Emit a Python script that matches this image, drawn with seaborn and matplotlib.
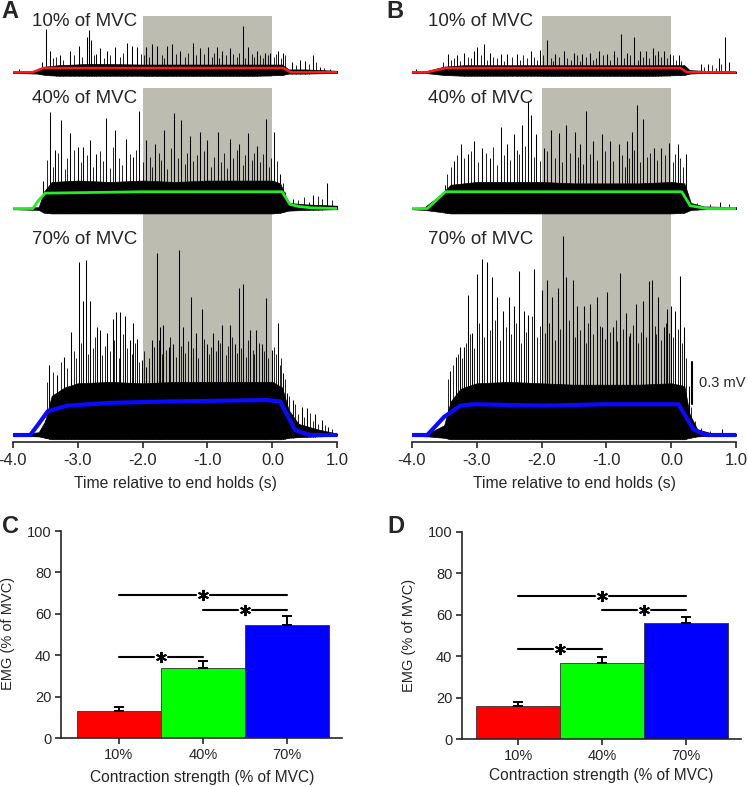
import numpy as np
import pandas as pd
import matplotlib
matplotlib.use("Agg")
import matplotlib.pyplot as plt
import seaborn as sns

# ---- EMG traces (time in s, heights in mV above each trace baseline) ----
levels = ["10% of MVC", "40% of MVC", "70% of MVC"]
trace_base = [2.645, 1.67, 0.05]          # baseline of each trace in mV
gray_boxes = [(2.61, 3.05), (1.66, 2.53), (0.015, 1.64)]
env_colors = ["#ff1a1a", "#22ee22", "#0a0aff"]

# panel A
a10_spk_t = [-3.91, -3.55, -3.48, -3.43, -3.27, -3.12, -2.98, -2.85, -2.83, -2.80, -2.71, -2.66, -2.55, -2.42,
             -2.24, -2.17, -2.09, -1.94, -1.86, -1.78, -1.63, -1.55, -1.42, -1.22, -1.11, -0.99, -0.86, -0.78,
             -0.65, -0.46, -0.37, -0.24, -0.11, -0.04, 0.09, 0.16, 0.30, 0.43, 0.50, 0.63, 0.74, 0.89]
a10_spk_h = [0.02, 0.07, 0.31, 0.15, 0.12, 0.15, 0.19, 0.25, 0.30, 0.23, 0.13, 0.17, 0.15, 0.18,
             0.21, 0.19, 0.18, 0.18, 0.20, 0.19, 0.19, 0.20, 0.15, 0.21, 0.17, 0.18, 0.18, 0.15,
             0.17, 0.33, 0.18, 0.15, 0.14, 0.14, 0.15, 0.14, 0.07, 0.09, 0.08, 0.12, 0.04, 0.02]
a10_small_t = [-3.38, -3.33, -3.22, -3.06, -2.93, -2.75, -2.60, -2.50, -2.35, -2.30, -2.02, -1.98, -1.90, -1.70,
               -1.67, -1.48, -1.35, -1.30, -1.18, -1.05, -0.93, -0.90, -0.82, -0.71, -0.60, -0.55, -0.51, -0.42,
               -0.31, -0.28, -0.19, -0.15, -0.07, 0.02, 0.05, 0.13, 0.20, 0.36, 0.56, 0.67, 0.80]
a10_small_h = [0.10, 0.11, 0.09, 0.12, 0.11, 0.12, 0.10, 0.12, 0.11, 0.14, 0.13, 0.12, 0.11, 0.12,
               0.10, 0.13, 0.11, 0.14, 0.12, 0.13, 0.11, 0.14, 0.10, 0.12, 0.13, 0.11, 0.14, 0.10,
               0.13, 0.11, 0.12, 0.10, 0.12, 0.11, 0.13, 0.10, 0.12, 0.05, 0.06, 0.07, 0.03]
a10_band_t = [-4.0, -3.62, -3.5, -3.3, -2.8, -2.0, -1.0, -0.3, 0.15, 0.25, 0.5, 1.0]
a10_band_top = [0.005, 0.01, 0.04, 0.05, 0.06, 0.055, 0.055, 0.055, 0.055, 0.02, 0.02, 0.01]
a10_band_bot = [-0.005, -0.01, -0.02, -0.025, -0.025, -0.025, -0.025, -0.025, -0.02, -0.01, -0.01, -0.005]
a10_env_t = [-3.98, -3.69, -3.53, -2.0, 0.17, 0.28, 1.0]
a10_env_v = [0.0, 0.0, 0.03, 0.03, 0.03, 0.0, 0.0]

a40_spk_t = [-3.53, -3.42, -3.35, -3.25, -3.12, -2.99, -2.91, -2.81, -2.71, -2.56, -2.42, -2.26, -2.14, -2.05,
             -1.94, -1.81, -1.67, -1.51, -1.40, -1.27, -1.11, -1.00, -0.84, -0.65, -0.51, -0.37, -0.24, -0.10,
             0.03, 0.12, 0.32, 0.63, 0.84, 0.99]
a40_spk_h = [0.20, 0.69, 0.42, 0.63, 0.54, 0.44, 0.44, 0.49, 0.39, 0.65, 0.56, 0.50, 0.37, 0.70,
             0.49, 0.46, 0.56, 0.68, 0.63, 0.52, 0.55, 0.49, 0.55, 0.50, 0.46, 0.54, 0.45, 0.64,
             0.55, 0.25, 0.07, 0.10, 0.18, 0.10]
a40_small_t = [-3.47, -3.38, -3.30, -3.20, -3.16, -3.06, -2.95, -2.86, -2.76, -2.66, -2.61, -2.50, -2.46, -2.36,
               -2.31, -2.20, -2.10, -1.99, -1.89, -1.85, -1.75, -1.71, -1.62, -1.56, -1.46, -1.34, -1.31, -1.22,
               -1.16, -1.06, -0.95, -0.90, -0.79, -0.74, -0.70, -0.60, -0.55, -0.46, -0.42, -0.31, -0.28, -0.19,
               -0.15, -0.05, -0.02, 0.07, 0.16, 0.20, 0.40, 0.48, 0.56, 0.70, 0.76, 0.92]
a40_small_h = [0.35, 0.30, 0.40, 0.28, 0.36, 0.42, 0.33, 0.38, 0.30, 0.41, 0.34, 0.29, 0.44, 0.36,
               0.31, 0.39, 0.42, 0.33, 0.37, 0.30, 0.40, 0.35, 0.28, 0.43, 0.36, 0.32, 0.40, 0.34,
               0.38, 0.41, 0.30, 0.37, 0.33, 0.40, 0.29, 0.36, 0.42, 0.31, 0.38, 0.35, 0.40, 0.33,
               0.39, 0.30, 0.36, 0.34, 0.18, 0.12, 0.06, 0.08, 0.05, 0.09, 0.07, 0.06]
a40_band_t = [-4.0, -3.6, -3.52, -3.4, -3.0, -2.5, -2.0, -1.5, -1.0, -0.5, 0.0, 0.12, 0.25, 0.5, 1.0]
a40_band_top = [0.0, 0.01, 0.12, 0.19, 0.20, 0.19, 0.20, 0.19, 0.20, 0.20, 0.20, 0.18, 0.04, 0.03, 0.02]
a40_band_bot = [-0.005, -0.01, -0.03, -0.035, -0.035, -0.035, -0.035, -0.035, -0.035, -0.035, -0.035,
                -0.03, -0.015, -0.01, -0.005]
a40_env_t = [-4.0, -3.69, -3.6, -3.5, -2.0, -1.0, 0.15, 0.27, 0.4, 0.6, 1.0]
a40_env_v = [0.0, 0.0, 0.06, 0.11, 0.12, 0.12, 0.12, 0.03, 0.015, 0.005, 0.0]

a70_spk_t = [-3.50, -3.44, -3.31, -3.21, -3.10, -2.98, -2.92, -2.87, -2.81, -2.70, -2.66, -2.54, -2.46, -2.41,
             -2.34, -2.27, -2.20, -2.14, -2.09, -2.01, -1.94, -1.86, -1.78, -1.73, -1.68, -1.60, -1.53, -1.44,
             -1.37, -1.26, -1.17, -1.09, -1.01, -0.91, -0.83, -0.77, -0.66, -0.58, -0.51, -0.45, -0.35, -0.25,
             -0.16, -0.10, -0.01, 0.08, 0.17, 0.22, 0.31, 0.45, 0.53, 0.66, 0.76, 0.86]
a70_spk_h = [0.11, 0.50, 0.43, 0.56, 0.74, 1.24, 0.96, 1.25, 0.96, 0.77, 0.75, 0.73, 0.83, 0.88,
             0.88, 0.85, 0.68, 0.80, 0.69, 0.54, 0.49, 0.68, 1.30, 0.77, 0.79, 0.63, 0.65, 1.32,
             0.77, 0.99, 0.73, 0.90, 0.65, 0.73, 0.68, 0.79, 0.79, 0.65, 1.05, 1.08, 0.75, 0.75,
             0.65, 0.98, 0.61, 0.80, 0.44, 0.30, 0.25, 0.20, 0.19, 0.15, 0.11, 0.06]
a70_small_t = [-3.47, -3.38, -3.26, -3.16, -3.05, -3.02, -2.95, -2.84, -2.77, -2.73, -2.62, -2.58, -2.50, -2.44,
               -2.37, -2.30, -2.24, -2.17, -2.12, -2.05, -1.98, -1.90, -1.83, -1.75, -1.70, -1.64, -1.57, -1.49,
               -1.41, -1.34, -1.30, -1.22, -1.14, -1.05, -0.97, -0.94, -0.87, -0.80, -0.72, -0.69, -0.62, -0.55,
               -0.48, -0.41, -0.38, -0.30, -0.28, -0.20, -0.13, -0.06, 0.03, 0.05, 0.12, 0.14, 0.19, 0.26,
               0.35, 0.40, 0.49, 0.58, 0.62, 0.71, 0.81, 0.92]
a70_small_h = [0.38, 0.45, 0.52, 0.48, 0.60, 0.55, 0.66, 0.58, 0.62, 0.70, 0.57, 0.64, 0.60, 0.68,
               0.55, 0.72, 0.62, 0.58, 0.66, 0.52, 0.60, 0.55, 0.63, 0.68, 0.58, 0.61, 0.70, 0.56,
               0.64, 0.59, 0.67, 0.62, 0.55, 0.69, 0.58, 0.63, 0.60, 0.66, 0.57, 0.64, 0.70, 0.59,
               0.62, 0.56, 0.68, 0.61, 0.58, 0.66, 0.60, 0.55, 0.63, 0.58, 0.50, 0.55, 0.40, 0.28,
               0.22, 0.15, 0.13, 0.16, 0.10, 0.08, 0.07, 0.04]
a70_band_t = [-4.0, -3.6, -3.5, -3.4, -3.2, -3.0, -2.5, -2.0, -1.5, -1.0, -0.5, 0.0, 0.15, 0.25, 0.4, 0.7, 1.0]
a70_band_top = [0.0, 0.02, 0.10, 0.28, 0.34, 0.37, 0.38, 0.37, 0.38, 0.38, 0.38, 0.38, 0.34, 0.18, 0.08, 0.04, 0.01]
a70_band_bot = [-0.005, -0.01, -0.02, -0.03, -0.03, -0.03, -0.03, -0.03, -0.03, -0.03, -0.03, -0.03,
                -0.03, -0.02, -0.015, -0.01, -0.005]
a70_env_t = [-4.0, -3.73, -3.6, -3.46, -3.16, -2.5, -1.62, -0.08, 0.12, 0.35, 0.58, 1.0]
a70_env_v = [0.0, 0.0, 0.08, 0.17, 0.21, 0.23, 0.24, 0.25, 0.24, 0.035, 0.0, 0.0]

# panel B
b10_spk_t = [-3.94, -3.44, -3.30, -3.20, -3.04, -2.99, -2.89, -2.79, -2.63, -2.53, -2.38, -2.17, -2.03, -1.92,
             -1.79, -1.66, -1.50, -1.38, -1.25, -1.12, -0.99, -0.89, -0.78, -0.68, -0.57, -0.48, -0.39, -0.28,
             -0.21, -0.12, -0.02, 0.11, 0.45, 0.57, 0.73, 0.82, 0.88]
b10_spk_h = [0.02, 0.13, 0.12, 0.14, 0.15, 0.18, 0.20, 0.14, 0.13, 0.13, 0.13, 0.15, 0.16, 0.23,
             0.13, 0.15, 0.14, 0.13, 0.14, 0.15, 0.13, 0.15, 0.27, 0.14, 0.25, 0.15, 0.15, 0.17,
             0.15, 0.15, 0.13, 0.12, 0.06, 0.06, 0.10, 0.25, 0.07]
b10_small_t = [-3.60, -3.52, -3.39, -3.35, -3.25, -3.14, -3.09, -2.94, -2.84, -2.74, -2.68, -2.58, -2.45, -2.33,
               -2.28, -2.22, -2.11, -2.07, -1.97, -1.86, -1.83, -1.73, -1.61, -1.55, -1.45, -1.41, -1.31, -1.20,
               -1.16, -1.06, -0.94, -0.84, -0.73, -0.63, -0.52, -0.44, -0.34, -0.25, -0.16, -0.07, 0.03, 0.07,
               0.15, 0.50, 0.63, 0.68, 0.77]
b10_small_h = [0.03, 0.07, 0.09, 0.10, 0.08, 0.11, 0.10, 0.12, 0.09, 0.11, 0.10, 0.08, 0.11, 0.09,
               0.12, 0.10, 0.11, 0.09, 0.12, 0.10, 0.08, 0.11, 0.10, 0.09, 0.12, 0.08, 0.11, 0.09,
               0.10, 0.12, 0.09, 0.11, 0.10, 0.12, 0.09, 0.11, 0.10, 0.12, 0.11, 0.10, 0.12, 0.09,
               0.08, 0.04, 0.05, 0.03, 0.06]
b10_band_t = [-4.0, -3.8, -3.5, -3.2, -2.5, -2.0, -1.0, -0.3, 0.2, 0.28, 0.5, 1.0]
b10_band_top = [0.005, 0.005, 0.04, 0.05, 0.05, 0.05, 0.05, 0.05, 0.05, 0.015, 0.01, 0.005]
b10_band_bot = [-0.005, -0.005, -0.02, -0.025, -0.025, -0.025, -0.025, -0.025, -0.02, -0.01, -0.005, -0.005]
b10_env_t = [-4.0, -3.76, -3.48, 0.14, 0.24, 1.0]
b10_env_v = [0.0, 0.0, 0.03, 0.03, 0.0, 0.0]

b40_spk_t = [-3.49, -3.35, -3.24, -3.14, -3.04, -2.91, -2.79, -2.63, -2.53, -2.43, -2.30, -2.21, -2.17, -2.08,
             -1.96, -1.86, -1.73, -1.62, -1.49, -1.40, -1.31, -1.20, -1.07, -0.95, -0.81, -0.68, -0.61, -0.53,
             -0.43, -0.27, -0.16, -0.04, 0.10, 0.22, 0.75]
b40_spk_h = [0.17, 0.34, 0.46, 0.39, 0.48, 0.43, 0.36, 0.58, 0.46, 0.53, 0.60, 0.77, 0.67, 0.53,
             0.43, 0.56, 0.54, 0.60, 0.55, 0.46, 0.70, 0.48, 0.53, 0.48, 0.46, 0.48, 0.55, 0.74,
             0.64, 0.43, 0.43, 0.47, 0.46, 0.39, 0.05]
b40_small_t = [-3.45, -3.40, -3.30, -3.19, -3.09, -2.98, -2.86, -2.74, -2.69, -2.58, -2.48, -2.38, -2.34, -2.26,
               -2.12, -2.02, -1.91, -1.80, -1.68, -1.56, -1.44, -1.36, -1.25, -1.15, -1.02, -0.90, -0.76, -0.72,
               -0.65, -0.57, -0.48, -0.38, -0.33, -0.22, -0.10, 0.02, 0.06, 0.14, 0.18, 0.40, 0.60, 0.88]
b40_small_h = [0.25, 0.30, 0.38, 0.36, 0.41, 0.33, 0.40, 0.44, 0.31, 0.38, 0.35, 0.42, 0.39, 0.45,
               0.37, 0.34, 0.41, 0.36, 0.33, 0.40, 0.37, 0.32, 0.39, 0.35, 0.41, 0.34, 0.38, 0.30,
               0.36, 0.42, 0.33, 0.37, 0.40, 0.35, 0.38, 0.33, 0.39, 0.36, 0.30, 0.04, 0.03, 0.03]
b40_band_t = [-4.0, -3.8, -3.55, -3.4, -3.0, -2.5, -2.0, -1.5, -1.0, -0.5, 0.0, 0.2, 0.3, 0.5, 1.0]
b40_band_top = [0.0, 0.01, 0.10, 0.17, 0.19, 0.19, 0.19, 0.18, 0.18, 0.18, 0.19, 0.18, 0.04, 0.015, 0.01]
b40_band_bot = [-0.005, -0.01, -0.025, -0.035, -0.035, -0.035, -0.035, -0.035, -0.035, -0.035, -0.035,
                -0.03, -0.01, -0.005, -0.005]
b40_env_t = [-4.0, -3.76, -3.62, -3.48, 0.16, 0.29, 0.55, 1.0]
b40_env_v = [0.0, 0.0, 0.06, 0.12, 0.12, 0.02, 0.0, 0.0]

b70_spk_t = [-3.41, -3.32, -3.26, -3.20, -3.14, -3.07, -3.00, -2.91, -2.84, -2.76, -2.68, -2.59, -2.50, -2.43,
             -2.34, -2.27, -2.21, -2.11, -1.99, -1.91, -1.84, -1.75, -1.67, -1.62, -1.52, -1.45, -1.35, -1.25,
             -1.14, -1.07, -0.99, -0.90, -0.79, -0.70, -0.63, -0.55, -0.43, -0.35, -0.30, -0.20, -0.12, -0.07,
             -0.01, 0.06, 0.14, 0.19, 0.27, 0.78]
b70_spk_h = [0.46, 0.56, 0.63, 0.63, 1.00, 0.73, 1.15, 1.26, 1.24, 1.13, 0.99, 0.89, 0.99, 0.92,
             1.17, 0.89, 0.86, 1.19, 1.04, 1.11, 0.99, 1.05, 1.42, 1.13, 1.11, 0.92, 0.92, 0.94,
             0.99, 0.77, 1.02, 0.77, 1.16, 0.87, 0.73, 0.94, 0.96, 1.10, 1.11, 0.99, 0.77, 0.90,
             0.92, 0.89, 1.14, 0.77, 0.35, 0.04]
b70_small_t = [-3.44, -3.36, -3.29, -3.23, -3.17, -3.10, -3.04, -2.96, -2.88, -2.80, -2.72, -2.64, -2.55, -2.47,
               -2.39, -2.31, -2.24, -2.15, -2.07, -2.03, -1.95, -1.88, -1.79, -1.71, -1.57, -1.49, -1.40, -1.31,
               -1.28, -1.20, -1.10, -1.03, -0.95, -0.86, -0.83, -0.75, -0.66, -0.59, -0.51, -0.47, -0.39, -0.26,
               -0.23, -0.16, -0.09, -0.04, 0.03, 0.10, 0.17, 0.23, 0.30, 0.36, 0.45, 0.60]
b70_small_h = [0.40, 0.50, 0.58, 0.55, 0.66, 0.72, 0.62, 0.80, 0.70, 0.75, 0.82, 0.68, 0.77, 0.72,
               0.80, 0.66, 0.74, 0.85, 0.70, 0.78, 0.73, 0.80, 0.68, 0.76, 0.82, 0.70, 0.75, 0.66,
               0.80, 0.72, 0.78, 0.69, 0.74, 0.82, 0.67, 0.76, 0.71, 0.79, 0.66, 0.74, 0.70, 0.78,
               0.72, 0.68, 0.80, 0.73, 0.70, 0.76, 0.66, 0.55, 0.20, 0.10, 0.05, 0.03]
b70_band_t = [-4.0, -3.75, -3.5, -3.4, -3.25, -3.0, -2.5, -2.0, -1.5, -1.0, -0.5, 0.0, 0.2, 0.28, 0.4, 0.6, 1.0]
b70_band_top = [0.0, 0.01, 0.07, 0.24, 0.33, 0.37, 0.38, 0.37, 0.36, 0.36, 0.36, 0.37, 0.35, 0.15, 0.04, 0.015, 0.01]
b70_band_bot = [-0.005, -0.01, -0.02, -0.03, -0.03, -0.03, -0.03, -0.03, -0.03, -0.03, -0.03, -0.03,
                -0.03, -0.02, -0.01, -0.005, -0.005]
b70_env_t = [-4.0, -3.76, -3.5, -3.25, -3.04, -2.0, -1.0, 0.11, 0.34, 0.54, 1.0]
b70_env_v = [0.0, 0.0, 0.13, 0.21, 0.22, 0.21, 0.22, 0.22, 0.04, 0.0, 0.0]

# ---- bar charts ----
strength = ["10%", "40%", "70%"]
bar_colors = ["#ff0000", "#00ff00", "#0000ff"]
c_mean = [13.0, 34.0, 54.6]
c_err = [2.0, 3.0, 4.4]
d_mean = [16.0, 36.8, 55.9]
d_err = [2.1, 3.0, 3.1]
# (from, to, y) of significance brackets
c_sig = [(0, 2, 69.0), (1, 2, 62.0), (0, 1, 39.3)]
d_sig = [(0, 2, 69.2), (1, 2, 62.3), (0, 1, 43.6)]

sns.set_style("ticks")
plt.rcParams["font.family"] = ["Liberation Sans", "DejaVu Sans"]

fig = plt.figure(figsize=(7.48, 7.87), dpi=100)


def draw_trace(ax, base, band_t, band_top, band_bot, spk_t, spk_h, sm_t, sm_h, env_t, env_v, color, lw):
    ax.fill_between(band_t, [base + v for v in band_bot], [base + v for v in band_top],
                    color="black", lw=0.5, edgecolor="black", zorder=2)
    for tt, hh, w in [(sm_t, sm_h, 0.6), (spk_t, spk_h, 0.75)]:
        ax.vlines(tt, [base + b for b in np.interp(tt, band_t, band_bot)],
                  [base + h for h in hh], color="black", lw=w, zorder=2)
    env = pd.DataFrame({"t": env_t, "v": [base + v for v in env_v]})
    sns.lineplot(data=env, x="t", y="v", color=color, lw=lw, ax=ax, estimator=None, sort=False, zorder=3)


def trace_panel(rect, traces, label_x):
    ax = fig.add_axes(rect)
    for (y0, y1) in gray_boxes:
        ax.fill_between([-2.0, 0.0], y0, y1, color="#bdbcb1", lw=0, zorder=0)
    for i, tr in enumerate(traces):
        draw_trace(ax, trace_base[i], *tr, env_colors[i], [1.8, 2.0, 3.0][i])
    for y, txt in zip([3.01, 2.46, 1.45], levels):
        ax.text(label_x, y, txt, fontsize=13.5, va="center", ha="left", zorder=4)
    ax.set_xlim(-4.0, 1.0)
    ax.set_ylim(0, 3.09)
    ax.set_xticks([-4, -3, -2, -1, 0, 1])
    ax.set_xticklabels(["-4.0", "-3.0", "-2.0", "-1.0", "0.0", "1.0"], fontsize=12)
    ax.set_yticks([])
    ax.set_xlabel("Time relative to end holds (s)", fontsize=11.3)
    ax.xaxis.set_label_coords(0.5, -0.078)
    ax.set_ylabel("")
    for s in ["top", "right", "left"]:
        ax.spines[s].set_visible(False)
    ax.spines["bottom"].set_linewidth(1.2)
    ax.tick_params(axis="x", length=4, width=1.2, pad=4, direction="out")
    return ax


ax_a = trace_panel([0.01698, 0.43837, 0.43396, 0.54892], [
    (a10_band_t, a10_band_top, a10_band_bot, a10_spk_t, a10_spk_h, a10_small_t, a10_small_h, a10_env_t, a10_env_v),
    (a40_band_t, a40_band_top, a40_band_bot, a40_spk_t, a40_spk_h, a40_small_t, a40_small_h, a40_env_t, a40_env_v),
    (a70_band_t, a70_band_top, a70_band_bot, a70_spk_t, a70_spk_h, a70_small_t, a70_small_h, a70_env_t, a70_env_v)],
    -3.70)
ax_b = trace_panel([0.55040, 0.43837, 0.43396, 0.54892], [
    (b10_band_t, b10_band_top, b10_band_bot, b10_spk_t, b10_spk_h, b10_small_t, b10_small_h, b10_env_t, b10_env_v),
    (b40_band_t, b40_band_top, b40_band_bot, b40_spk_t, b40_spk_h, b40_small_t, b40_small_h, b40_env_t, b40_env_v),
    (b70_band_t, b70_band_top, b70_band_bot, b70_spk_t, b70_spk_h, b70_small_t, b70_small_h, b70_env_t, b70_env_v)],
    -3.75)

# 0.3 mV scale bar
ax_b.plot([0.31, 0.31], [0.27, 0.57], color="black", lw=1.5, zorder=4)
ax_b.text(0.42, 0.42, "0.3 mV", fontsize=10.5, va="center", ha="left")


def bar_panel(rect, means, errs, sig, xlim):
    ax = fig.add_axes(rect)
    df = pd.DataFrame({"strength": strength, "emg": means})
    sns.barplot(data=df, x="strength", y="emg", hue="strength", palette=bar_colors, legend=False,
                width=1.0, saturation=1, edgecolor="#333333", linewidth=0.6, ax=ax, zorder=2)
    ax.errorbar([0, 1, 2], means, yerr=[[0, 0, 0], errs], fmt="none", ecolor="black",
                elinewidth=1.4, capsize=3.5, capthick=1.4, zorder=3)
    for (x0, x1, y) in sig:
        mid = (x0 + x1) / 2
        ax.plot([x0, mid - 0.085], [y, y], color="black", lw=1.5, zorder=3)
        ax.plot([mid + 0.085, x1], [y, y], color="black", lw=1.5, zorder=3)
        ax.plot([mid], [y], marker=(6, 2, 0), ms=8, mew=1.4, color="black", zorder=3)
    ax.set_xlim(*xlim)
    ax.set_ylim(0, 100)
    ax.set_yticks([0, 20, 40, 60, 80, 100])
    ax.tick_params(axis="both", labelsize=10.5, length=4, width=1.2, pad=3)
    ax.set_xlabel("Contraction strength (% of MVC)", fontsize=11.2)
    ax.set_ylabel("EMG (% of MVC)", fontsize=10.5)
    for s in ["top", "right"]:
        ax.spines[s].set_visible(False)
    for s in ["bottom", "left"]:
        ax.spines[s].set_linewidth(1.2)
    return ax


ax_c = bar_panel([0.08155, 0.06226, 0.37567, 0.26302], c_mean, c_err, c_sig, (-0.69, 2.655))
ax_c.xaxis.set_label_coords(0.5036, -0.155)
ax_c.yaxis.set_label_coords(-0.165, 0.507)
ax_d = bar_panel([0.61765, 0.06061, 0.37299, 0.26380], d_mean, d_err, d_sig, (-0.667, 2.655))
ax_d.xaxis.set_label_coords(0.50, -0.14)
ax_d.yaxis.set_label_coords(-0.165, 0.50)

for x, y, lab in [(0.002, 1.0, "A"), (0.516, 1.0, "B"), (0.003, 0.346, "C"), (0.518, 0.346, "D")]:
    fig.text(x, y, lab, fontsize=17, fontweight="bold", va="top", ha="left")

fig.savefig("out.png", dpi=100)
